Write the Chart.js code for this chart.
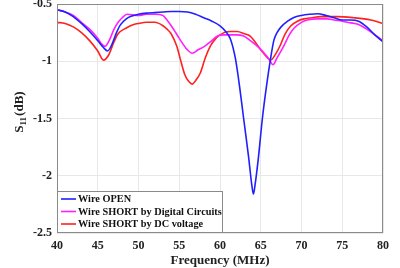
<!DOCTYPE html>
<html>
<head>
<meta charset="utf-8">
<script src="https://cdn.jsdelivr.net/npm/chart.js@4/dist/chart.umd.min.js"></script>
<style>
  html, body { margin: 0; padding: 0; background: #fff; }
  #wrap { width: 400px; height: 268px; position: relative; }
</style>
</head>
<body>
<div id="wrap"><canvas id="c"></canvas></div>
<script>
const FONT = '"Liberation Serif", "Times New Roman", serif';

const openF = [40,41,42,43,44,45,45.7,46.2,46.7,47.3,47.8,48.5,49,50,51,52,53,54,55,56,57,58,59,60,60.7,61.3,61.9,62.4,62.9,63.5,63.9,64.1,64.3,64.7,65.2,65.7,66.2,66.6,67,67.5,68.3,69,70,71,72,73,74,75,76,77,78,79,80];
const openS = [-0.55,-0.57,-0.61,-0.67,-0.74,-0.82,-0.88,-0.91,-0.86,-0.75,-0.68,-0.63,-0.61,-0.59,-0.58,-0.575,-0.57,-0.565,-0.565,-0.57,-0.59,-0.62,-0.65,-0.69,-0.74,-0.81,-0.98,-1.22,-1.50,-1.83,-2.08,-2.16,-2.08,-1.85,-1.50,-1.22,-0.98,-0.82,-0.75,-0.70,-0.65,-0.62,-0.60,-0.59,-0.585,-0.60,-0.62,-0.64,-0.64,-0.65,-0.70,-0.77,-0.83];

const digF = [40,41,42,43,44,45,45.5,45.9,46.4,47,47.5,48,48.6,50,51,52,53,53.5,54.3,55,56,56.6,57.3,58.1,59,59.7,60.5,61.3,62,62.9,63.7,64.6,65.3,66,66.5,67,67.8,68.5,69.1,70,70.7,72,73.2,74,75,75.6,76.5,77,78,79,80];
const digS = [-0.55,-0.57,-0.60,-0.66,-0.72,-0.80,-0.85,-0.87,-0.82,-0.72,-0.66,-0.62,-0.59,-0.60,-0.59,-0.59,-0.60,-0.64,-0.72,-0.80,-0.90,-0.93,-0.90,-0.87,-0.82,-0.78,-0.77,-0.77,-0.77,-0.78,-0.82,-0.87,-0.92,-0.98,-1.03,-0.97,-0.87,-0.77,-0.71,-0.66,-0.64,-0.63,-0.63,-0.64,-0.65,-0.66,-0.67,-0.68,-0.72,-0.77,-0.82];

const dcF = [40,41,42,43,44,45,45.7,46.3,47,47.5,48.5,49.4,50,51,52,53,53.5,54,54.7,55.2,55.7,56.2,56.6,57,57.6,58.2,58.8,59.5,60.5,61.3,62.1,63,63.7,64.4,65,65.7,66.2,66.8,67.4,68,68.7,69.5,70.3,71.3,72.3,74.4,76.4,78.5,80];
const dcS = [-0.66,-0.67,-0.70,-0.75,-0.82,-0.91,-0.99,-0.95,-0.83,-0.76,-0.71,-0.68,-0.67,-0.66,-0.66,-0.69,-0.72,-0.76,-0.87,-1.00,-1.12,-1.18,-1.20,-1.17,-1.10,-0.97,-0.87,-0.80,-0.75,-0.74,-0.74,-0.76,-0.78,-0.84,-0.90,-0.96,-0.99,-0.94,-0.86,-0.76,-0.69,-0.65,-0.63,-0.62,-0.61,-0.61,-0.62,-0.64,-0.67];

const seriesLabels = ['Wire OPEN', 'Wire SHORT by Digital Circuits', 'Wire SHORT by DC voltage'];
const seriesColors = ['#2020ff', '#ff20ff', '#ff2020'];
const xTicks = [40,45,50,55,60,65,70,75,80];
const yTicks = [-0.5,-1,-1.5,-2,-2.5];

const pts = (f, s) => f.map((x, i) => ({ x, y: s[i] }));

const frame = {
  id: 'frame',
  afterDatasetsDraw(chart) {
    const { ctx, chartArea: a } = chart;
    ctx.save();
    ctx.strokeStyle = '#8a8a8a';
    ctx.lineWidth = 1;
    ctx.strokeRect(a.left + 0.5, a.top + 0.5, a.right - a.left - 1, a.bottom - a.top - 1);

    // legend box, bottom-left inside plot
    const bx = a.left, bh = 42, by = a.bottom - bh, bw = 165;
    ctx.fillStyle = '#fff';
    ctx.fillRect(bx, by, bw, bh);
    ctx.strokeStyle = '#8a8a8a';
    ctx.strokeRect(bx + 0.5, by + 0.5, bw, bh - 1);
    ctx.font = 'bold 10.3px ' + FONT;
    ctx.textBaseline = 'middle';
    seriesLabels.forEach((t, i) => {
      const y = by + 8 + i * 12.5;
      ctx.strokeStyle = seriesColors[i];
      ctx.lineWidth = 1.6;
      ctx.beginPath(); ctx.moveTo(bx + 4, y); ctx.lineTo(bx + 19, y); ctx.stroke();
      ctx.fillStyle = '#111';
      ctx.fillText(t, bx + 21, y + 0.5);
    });

    // y title with subscript
    ctx.translate(18, (a.top + a.bottom) / 2 - 6);
    ctx.rotate(-Math.PI / 2);
    ctx.fillStyle = '#222';
    ctx.textBaseline = 'alphabetic';
    ctx.font = 'bold 13px ' + FONT;
    const w1 = ctx.measureText('S').width;
    const w3 = ctx.measureText('(dB)').width;
    ctx.font = 'bold 9px ' + FONT;
    const w2 = ctx.measureText('11').width;
    let x0 = -(w1 + w2 + w3) / 2;
    ctx.font = 'bold 13px ' + FONT;
    ctx.fillText('S', x0, 5);
    ctx.font = 'bold 9px ' + FONT;
    ctx.fillText('11', x0 + w1, 8);
    ctx.font = 'bold 13px ' + FONT;
    ctx.fillText('(dB)', x0 + w1 + w2 + 1, 5);
    ctx.restore();
  }
};

new Chart(document.getElementById('c'), {
  type: 'line',
  data: {
    datasets: [
      { label: seriesLabels[0], data: pts(openF, openS) },
      { label: seriesLabels[1], data: pts(digF, digS) },
      { label: seriesLabels[2], data: pts(dcF, dcS) },
    ].map((d, i) => ({
      ...d,
      borderColor: seriesColors[i],
      backgroundColor: 'transparent',
      borderWidth: 1.6,
      pointRadius: 0,
      cubicInterpolationMode: 'monotone',
    }))
  },
  options: {
    responsive: true, maintainAspectRatio: false,
    animation: false,
    layout: { padding: { top: 4, right: 17, left: 0, bottom: 0 } },
    plugins: { legend: { display: false }, tooltip: { enabled: false } },
    scales: {
      x: {
        type: 'linear', min: 40, max: 80,
        afterBuildTicks: s => { s.ticks = xTicks.map(v => ({ value: v })); },
        afterFit: s => { s.height = 35; },
        grid: { color: '#e8e8e8', drawTicks: false },
        border: { display: false },
        ticks: { color: '#222', padding: 6, font: { family: FONT, size: 12, weight: 'bold' } },
        title: { display: true, text: 'Frequency (MHz)', color: '#222', padding: { top: 1, bottom: 0 },
                 font: { family: FONT, size: 13, weight: 'bold' } }
      },
      y: {
        type: 'linear', min: -2.5, max: -0.5,
        afterBuildTicks: s => { s.ticks = yTicks.map(v => ({ value: v })); },
        afterFit: s => { s.width = 57; s.paddingTop = 0; s.paddingBottom = 0; },
        grid: { color: '#e8e8e8', drawTicks: false },
        border: { display: false },
        ticks: { color: '#222', padding: 5, font: { family: FONT, size: 12, weight: 'bold' },
                 callback: v => String(v) }
      }
    }
  },
  plugins: [frame]
});
</script>
</body>
</html>
